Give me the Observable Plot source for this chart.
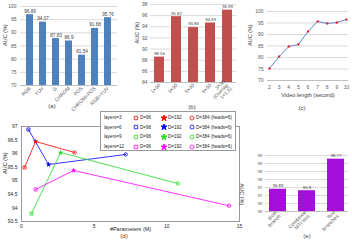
<!DOCTYPE html>
<html><head><meta charset="utf-8">
<script src="https://cdn.jsdelivr.net/npm/d3@7"></script>
<script src="https://cdn.jsdelivr.net/npm/@observablehq/plot@0.6"></script>
<style>
body{margin:0;background:#fff;}
#root{position:relative;width:352px;height:240px;overflow:hidden;font-family:"Liberation Sans",Arial,sans-serif;}
.panel{position:absolute;}
.panel svg{display:block;max-width:none;}
.cap{position:absolute;font-size:6px;color:#404040;transform:translate(-50%,-50%);white-space:nowrap;}
</style></head><body><div id="root"></div>
<script>
// (a) colour spaces
const aCats = ["RGB","YUV","G","CHROM","POS","CHROM+POS","RGB+YUV"];
const aVals = [96.89,94.07,87.83,86.9,81.54,91.68,95.76];
const aTicks = [70,75,80,85,90,95,100];
// (b) segment configurations
const bCats = ["1×30","3×30","5×30","6×30","3×30\n(Overlap\n1×1.5)"];
const bVals = [88.56,95.82,93.86,94.69,96.99];
const bTicks = [84,86,88,90,92,94,96,98];
// (c) video length
const cLengths = [2,3,4,5,6,7,8,9,10];
const cVals = [75.2,80.4,84.8,85.7,91.3,95.7,94.8,95.2,96.5];
const cTicks = [70,75,80,85,90,95,100];
// (d) parameters vs AUC
const dLayers = ["layers=3","layers=6","layers=9","layers=12"];
const dDims = ["D=96","D=192","D=384 (heads=6)"];
const dColors = ["#ff0000","#0000ff","#22dd22","#ff00ff"];
const dParamsL3 = [0.21,0.97,3.66],  dAucL3 = [95.49,96.45,96.04];
const dParamsL6 = [0.48,1.86,7.17],  dAucL6 = [96.89,95.6,95.97];
const dParamsL9 = [0.69,2.69,10.76], dAucL9 = [93.79,96.04,94.9];
const dParamsL12 = [0.97,3.59,14.28],dAucL12 = [94.68,95.38,94.08];
const dXTicks = [0,5,10,15];
const dYTicks = [93.5,94,94.5,95,95.5,96,96.5,97];
// (e) branches
const eCats = ["Both\nbranch","Combined\nMTI loss","Two\nbranches"];
const eVals = [96.89,96.8,98.77];
const eTicks = [95.5,96,96.5,97,97.5,98,98.5,99];

const root = document.getElementById("root");
const FONT = "'Liberation Sans', Arial, sans-serif";
const st = {fontSize:"5px", fontFamily:FONT, color:"#595959", background:"none", overflow:"visible"};
function mount(svg, left, top){const d=document.createElement("div");d.className="panel";d.style.left=left+"px";d.style.top=top+"px";d.appendChild(svg);root.appendChild(d);}
function caption(t,x,y){const d=document.createElement("div");d.className="cap";d.textContent=t;d.style.left=x+"px";d.style.top=y+"px";root.appendChild(d);}

// (a)
const aData = aCats.map((c,i)=>({cat:c, auc:aVals[i]}));
mount(Plot.plot({
  width:118, height:112, marginLeft:20, marginRight:1, marginTop:6, marginBottom:27, style:st,
  x:{domain:aCats, paddingInner:0.43, paddingOuter:0.25},
  y:{domain:[70,100]},
  marks:[
    Plot.gridY(aTicks,{stroke:"#d9d9d9", strokeOpacity:1}),
    Plot.barY(aData,{x:"cat", y1:70, y2:"auc", fill:"#4f81bd"}),
    Plot.ruleY([70],{stroke:"#bfbfbf"}),
    Plot.text(aData,{x:"cat", y:"auc", text:d=>String(d.auc), dy:-3.5, fill:"#404040", fontSize:4.6}),
    Plot.axisY(aTicks,{tickSize:0, tickPadding:4, label:null}),
    Plot.axisX({tickSize:0, tickRotate:-45, tickPadding:2, label:null}),
    Plot.text(["AUC (%)"],{text:d=>d, frameAnchor:"left", dx:-15, rotate:-90, fontSize:5.5, fill:"#404040"})
  ]}), 0, 0);
caption("(a)", 52, 106);

// (b)
const bData = bCats.map((c,i)=>({cat:c, auc:bVals[i]}));
mount(Plot.plot({
  width:118, height:112, marginLeft:32, marginRight:0, marginTop:4, marginBottom:30, style:st,
  x:{domain:bCats, paddingInner:0.44, paddingOuter:0.11},
  y:{domain:[84,98]},
  marks:[
    Plot.gridY(bTicks,{stroke:"#d9d9d9", strokeOpacity:1}),
    Plot.barY(bData,{x:"cat", y1:84, y2:"auc", fill:"#c0504d"}),
    Plot.ruleY([84],{stroke:"#bfbfbf"}),
    Plot.text(bData,{x:"cat", y:"auc", text:d=>String(d.auc), dy:-3.5, fill:"#404040", fontSize:4.3}),
    Plot.axisY(bTicks,{tickSize:0, tickPadding:3, label:null}),
    Plot.axisX({tickSize:0, tickRotate:-45, tickPadding:2, label:null}),
    Plot.text(["AUC (%)"],{text:d=>d, frameAnchor:"left", dx:-13, rotate:-90, fontSize:5.5, fill:"#404040"})
  ]}), 118, 0);
caption("(b)", 192, 107);

// (c)
const cData = cLengths.map((l,i)=>({len:l, auc:cVals[i]}));
mount(Plot.plot({
  width:117, height:112, marginLeft:32, marginRight:4, marginTop:11, marginBottom:32, style:st,
  x:{domain:[2,10], insetLeft:2, insetRight:2},
  y:{domain:[70,100]},
  marks:[
    Plot.gridY(cTicks,{stroke:"#d9d9d9", strokeOpacity:1}),
    Plot.ruleY([70],{stroke:"#bfbfbf"}),
    Plot.axisY(cTicks,{tickSize:0, tickPadding:4, label:null}),
    Plot.axisX(cLengths,{tickSize:0, tickPadding:5, label:null}),
    Plot.line(cData,{x:"len", y:"auc", stroke:"#5a8ad0", strokeWidth:1}),
    Plot.dot(cData,{x:"len", y:"auc", r:1.2, symbol:"square", fill:"#e0202a"}),
    Plot.text(["Video length (second)"],{text:d=>d, frameAnchor:"bottom", dy:16, fontSize:5.5, fill:"#404040"}),
    Plot.text(["AUC (%)"],{text:d=>d, frameAnchor:"left", dx:-17, rotate:-90, fontSize:5.5, fill:"#404040"})
  ]}), 235, 0);
caption("(c)", 302, 108);

// (d)
const dParams = [dParamsL3,dParamsL6,dParamsL9,dParamsL12];
const dAuc = [dAucL3,dAucL6,dAucL9,dAucL12];
const dData = [];
dLayers.forEach((L,li)=>dDims.forEach((D,di)=>dData.push({layer:L, dim:D, p:dParams[li][di], auc:dAuc[li][di]})));
mount(Plot.plot({
  width:248, height:128, marginLeft:21, marginRight:9, marginTop:14, marginBottom:19,
  style:{...st, color:"#262626"},
  x:{domain:[0,15]}, y:{domain:[93.5,97]},
  color:{domain:dLayers, range:dColors},
  symbol:{domain:dDims, range:["square","star","circle"]},
  marks:[
    Plot.frame({stroke:"#999"}),
    Plot.axisY(dYTicks,{tickSize:0, tickPadding:4, label:null, tickFormat:d=>String(d)}),
    Plot.axisX(dXTicks,{tickSize:0, tickPadding:3, label:null}),
    Plot.line(dData,{x:"p", y:"auc", z:"layer", stroke:"layer", strokeWidth:0.8}),
    Plot.dot(dData.filter(d=>d.dim!==dDims[1]),{x:"p", y:"auc", stroke:"layer", symbol:"dim", r:1.7, strokeWidth:0.8, fill:"none"}),
    Plot.dot(dData.filter(d=>d.dim===dDims[1]),{x:"p", y:"auc", fill:"layer", symbol:"dim", r:1.8}),
    Plot.text(["#Parameters (M)"],{text:d=>d, frameAnchor:"bottom", dy:9, fontSize:5.5, fill:"#262626"}),
    Plot.text(["AUC (%)"],{text:d=>d, frameAnchor:"left", dx:-16, rotate:-90, fontSize:5.5, fill:"#262626"})
  ]}), 0, 112);
caption("(d)", 124, 236);

// (d) legend
const leg = document.createElement("div");
leg.style.cssText = "position:absolute;left:100px;top:111px;width:136px;height:40px;border:1px solid #999;background:#fff;font-size:4.6px;color:#262626;display:grid;grid-template-columns:29px 7px 21px 7px 21px 7px 40px;grid-auto-rows:9.6px;align-items:center;padding:1px 0 0 3px;box-sizing:border-box;";
const symPaths = [d3.symbol(d3.symbolSquare, 12)(), d3.symbol(d3.symbolStar, 14)(), d3.symbol(d3.symbolCircle, 13)()];
dLayers.forEach((L,li)=>{
  let html = `<span>${L}</span>`;
  dDims.forEach((D,di)=>{
    const filled = di===1;
    html += `<svg width="6" height="6"><path transform="translate(3,3)" d="${symPaths[di]}" fill="${filled?dColors[li]:"none"}" stroke="${dColors[li]}" stroke-width="0.8"/></svg><span>${D}</span>`;
  });
  leg.insertAdjacentHTML("beforeend", html);
});
root.appendChild(leg);

// (e)
const eData = eCats.map((c,i)=>({cat:c, auc:eVals[i]}));
mount(Plot.plot({
  width:116, height:100, marginLeft:29, marginRight:4, marginTop:15, marginBottom:29, style:st,
  x:{domain:eCats, paddingInner:0.4, paddingOuter:0.1},
  y:{domain:[95.5,99]},
  marks:[
    Plot.gridY(eTicks,{stroke:"#d9d9d9", strokeOpacity:1}),
    Plot.barY(eData,{x:"cat", y1:95.5, y2:"auc", fill:"#a30fd8"}),
    Plot.ruleY([95.5],{stroke:"#bfbfbf"}),
    Plot.text(eData,{x:"cat", y:"auc", text:d=>String(d.auc), dy:-3.5, fill:"#404040", fontSize:4.3}),
    Plot.axisY(eTicks,{tickSize:0, tickPadding:3, label:null, fontSize:4.3}),
    Plot.axisX({tickSize:0, tickRotate:-45, tickPadding:2, label:null}),
    Plot.text(["AUC (%)"],{text:d=>d, frameAnchor:"left", dx:-24, rotate:90, fontSize:5.5, fill:"#404040"})
  ]}), 236, 140);
caption("(e)", 307, 236);
</script></body></html>
